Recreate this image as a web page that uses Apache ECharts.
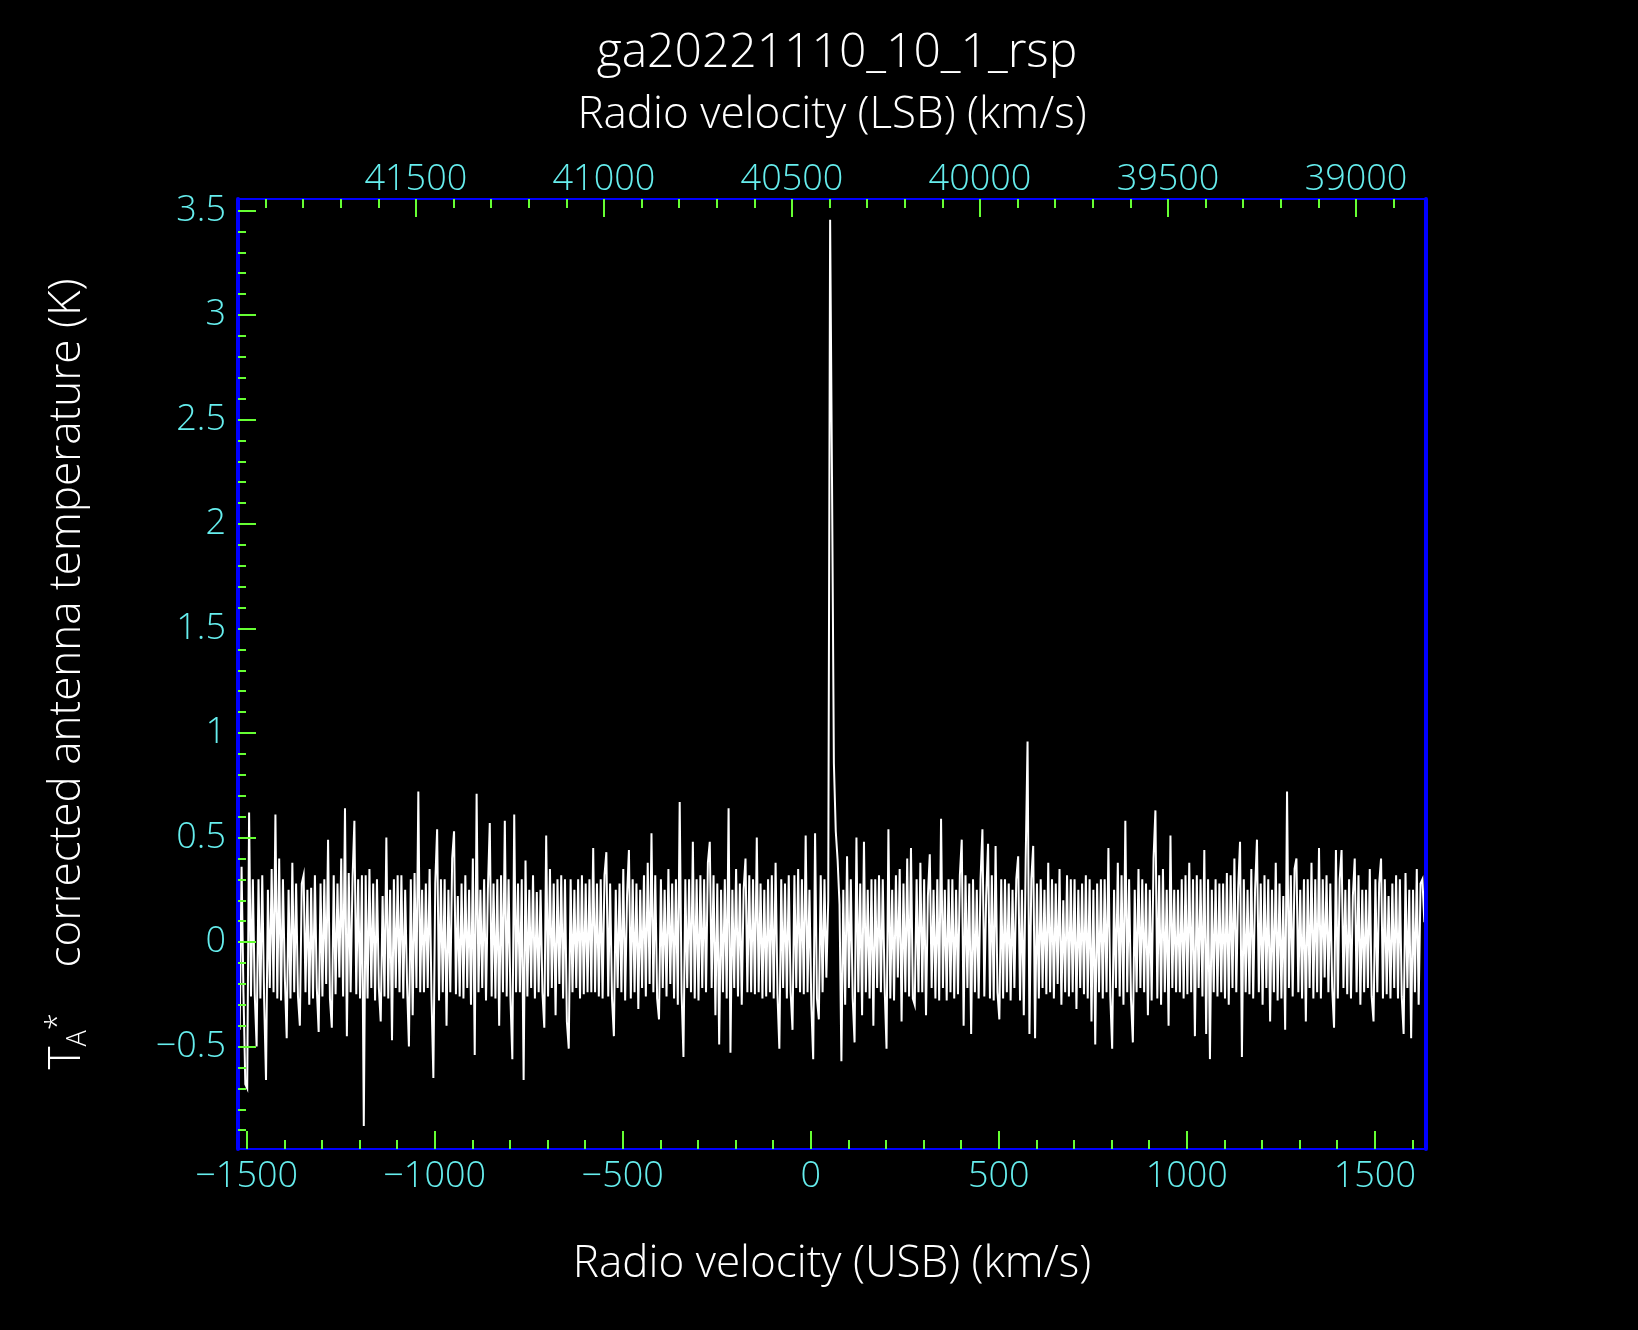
<!DOCTYPE html>
<html><head><meta charset="utf-8">
<script src="https://cdn.jsdelivr.net/npm/echarts@6/dist/echarts.min.js"></script>
<style>html,body{margin:0;padding:0;background:#000;}#c{width:1638px;height:1330px;}</style>
</head><body><div id="c"></div>
<script>
// Channel velocity axis (USB, km/s): first channel centre and channel width
const vStart = -1521;
const vStep = 5;
// Corrected antenna temperature T_A* (K), one value per channel
const tA = [
 0.76,-0.42,0.36,-0.24,-0.68,-0.70,0.62,-0.26,0.30,-0.25,-0.50,0.30,-0.27,0.32,-0.28,-0.66,0.25,-0.22,0.35,-0.24,
 0.61,-0.27,0.40,-0.28,0.30,-0.17,-0.46,0.25,-0.27,0.38,-0.24,0.28,-0.26,-0.40,0.28,0.32,-0.24,0.25,-0.30,0.26,
 -0.27,0.32,-0.22,-0.43,0.28,-0.26,0.30,-0.20,0.49,-0.27,-0.41,0.32,-0.25,0.28,-0.17,0.40,-0.26,0.64,-0.45,0.33,
 -0.24,0.30,0.58,-0.25,0.30,-0.27,0.32,-0.88,0.32,-0.27,0.35,-0.22,0.28,-0.28,0.30,-0.22,-0.38,0.22,-0.26,0.50,
 -0.27,0.25,-0.47,0.30,-0.22,0.32,-0.24,0.32,-0.27,0.25,-0.20,-0.50,0.30,-0.35,0.33,-0.22,0.72,-0.24,0.25,-0.24,
 0.28,-0.22,0.35,-0.26,-0.65,0.28,0.54,-0.28,0.30,-0.24,0.30,-0.40,0.25,-0.24,0.40,0.53,-0.25,0.22,-0.26,0.28,
 -0.27,0.32,-0.22,0.25,-0.30,0.40,-0.54,0.71,-0.24,0.25,-0.22,0.30,-0.28,0.25,0.57,-0.26,0.28,-0.27,0.30,-0.40,
 0.32,-0.24,0.58,-0.26,0.30,-0.27,-0.56,0.61,-0.24,0.28,-0.24,0.30,-0.66,0.39,-0.26,0.25,-0.22,0.32,-0.27,0.24,
 -0.24,0.25,-0.24,-0.41,0.51,-0.26,0.35,-0.22,0.28,-0.35,0.30,-0.20,0.32,-0.27,0.30,-0.38,-0.51,0.30,-0.24,0.25,
 -0.22,0.30,-0.27,0.32,-0.25,0.28,-0.24,0.30,-0.24,0.45,-0.24,0.28,-0.26,0.30,-0.27,0.32,0.43,-0.26,0.28,-0.27,
 -0.45,0.25,-0.22,0.28,-0.24,0.35,-0.28,0.22,0.44,-0.27,0.30,-0.24,0.28,-0.32,0.25,-0.22,0.32,-0.26,0.38,-0.20,
 0.52,-0.24,0.32,-0.27,-0.37,0.30,-0.22,0.25,-0.26,0.35,-0.20,0.28,-0.27,0.30,-0.30,0.67,-0.24,-0.55,0.30,-0.22,
 0.30,-0.24,0.48,-0.27,0.30,-0.28,0.32,-0.22,0.30,-0.24,0.38,0.48,-0.22,0.32,-0.35,0.28,-0.49,0.25,-0.24,0.30,
 -0.27,0.64,-0.53,0.25,-0.22,0.35,-0.26,0.28,-0.30,0.25,0.40,-0.24,0.32,-0.24,0.30,-0.25,0.50,-0.24,0.28,-0.27,
 0.25,-0.26,0.30,-0.24,0.32,-0.27,0.38,-0.25,-0.51,0.30,-0.22,0.28,-0.27,0.32,-0.24,-0.42,0.32,-0.22,0.35,-0.24,
 0.30,-0.25,0.51,-0.24,0.25,-0.30,-0.56,0.52,-0.27,-0.37,0.32,-0.24,0.30,-0.17,0.20,3.456,2.215,0.856,0.53,0.39,
 0.18,-0.57,0.25,-0.30,0.41,-0.22,0.30,-0.27,-0.48,0.50,-0.24,0.28,-0.35,0.48,-0.24,0.25,-0.27,0.30,-0.40,0.30,
 -0.22,0.32,-0.24,0.30,-0.22,-0.51,0.54,-0.27,0.25,-0.28,0.32,-0.17,0.35,-0.38,0.28,-0.24,0.40,-0.26,0.45,-0.27,
 -0.30,0.30,-0.24,0.38,-0.24,0.30,-0.35,0.22,0.42,-0.22,0.25,-0.27,0.30,-0.28,0.59,-0.22,0.25,-0.28,0.30,-0.24,
 0.30,-0.27,0.25,-0.25,0.32,0.49,-0.40,0.32,-0.22,0.28,-0.44,0.30,-0.24,0.25,-0.27,0.30,0.54,-0.26,0.22,0.47,
 -0.27,0.32,-0.28,0.46,-0.24,-0.37,0.30,-0.27,0.30,-0.24,0.28,-0.28,0.25,-0.22,0.30,0.41,-0.28,0.25,-0.35,0.39,
 0.96,-0.44,0.30,0.46,-0.46,0.28,-0.27,0.30,-0.22,0.25,-0.25,0.38,-0.24,0.30,-0.27,0.28,-0.20,0.35,-0.30,0.20,
 -0.24,0.32,-0.26,0.30,-0.24,0.30,-0.32,0.25,-0.22,0.28,-0.25,0.32,-0.27,0.30,-0.38,0.25,-0.49,0.28,-0.24,0.30,
 -0.27,0.30,-0.24,0.45,-0.26,-0.51,0.25,-0.22,0.38,-0.26,0.32,-0.30,0.58,-0.24,0.30,-0.27,-0.48,0.25,-0.24,0.35,
 -0.22,0.30,-0.24,0.28,-0.35,0.25,-0.28,0.40,0.63,-0.27,0.32,-0.30,0.35,-0.24,0.25,-0.40,0.51,-0.22,0.25,-0.24,
 0.25,-0.24,0.30,-0.27,0.32,-0.25,0.38,-0.24,0.30,-0.45,0.32,-0.22,0.30,-0.26,0.44,-0.44,0.30,-0.56,0.25,-0.24,
 0.30,-0.26,0.28,-0.24,0.28,-0.27,0.33,-0.30,0.32,-0.22,0.40,-0.24,0.25,0.48,-0.55,0.30,-0.24,0.25,-0.25,0.35,
 -0.27,0.25,0.49,-0.24,0.28,-0.30,0.32,-0.22,0.30,-0.38,0.25,-0.24,0.38,-0.28,0.28,-0.27,0.22,-0.42,0.72,-0.22,
 0.32,-0.26,0.35,0.40,-0.24,0.25,-0.27,0.30,-0.38,0.30,-0.22,0.38,-0.27,0.30,-0.24,0.45,-0.27,0.30,-0.17,0.32,
 -0.24,0.28,-0.22,-0.41,0.44,-0.27,0.30,0.44,-0.22,0.25,-0.25,0.30,-0.27,0.22,0.40,-0.24,0.32,-0.30,0.25,-0.24,
 0.25,-0.22,0.35,-0.26,-0.38,0.30,-0.24,0.28,0.40,-0.27,0.30,-0.25,0.22,-0.27,0.28,-0.22,0.32,-0.27,0.30,-0.26,
 -0.44,0.33,-0.22,0.25,-0.46,0.25,-0.24,0.35,-0.30,0.28,0.30,0.10
];
// Axis ranges and ticks
const usbRange = [-1523, 1636];
const lsbOffset = 40450; // LSB velocity = lsbOffset - USB velocity
const tRange = [-0.99, 3.555];
const usbMajor = [-1500, -1000, -500, 0, 500, 1000, 1500];
const usbMinor = [-1500,-1400,-1300,-1200,-1100,-1000,-900,-800,-700,-600,-500,-400,-300,-200,-100,0,100,200,300,400,500,600,700,800,900,1000,1100,1200,1300,1400,1500,1600];
const lsbMajor = [39000, 39500, 40000, 40500, 41000, 41500];
const lsbMinor = [38900,39000,39100,39200,39300,39400,39500,39600,39700,39800,39900,40000,40100,40200,40300,40400,40500,40600,40700,40800,40900,41000,41100,41200,41300,41400,41500,41600,41700,41800,41900];
const tMajor = [-0.5, 0, 0.5, 1, 1.5, 2, 2.5, 3, 3.5];
const tMinor = [-0.9,-0.8,-0.7,-0.6,-0.5,-0.4,-0.3,-0.2,-0.1,0,0.1,0.2,0.3,0.4,0.5,0.6,0.7,0.8,0.9,1,1.1,1.2,1.3,1.4,1.5,1.6,1.7,1.8,1.9,2,2.1,2.2,2.3,2.4,2.5,2.6,2.7,2.8,2.9,3,3.1,3.2,3.3,3.4,3.5];
const titleText = 'ga20221110_10_1_rsp';
const xTopName = 'Radio velocity (LSB) (km/s)';
const xBottomName = 'Radio velocity (USB) (km/s)';

const FONT = '"Open Sans"';
const FW = 300;
const CYAN = '#66eeee';
const GREEN = '#66ff33';
const BLUE = '#0000ff';
const fmt = v => v < 0 ? '\u2212' + Math.abs(v) : String(v);

// Histogram outline: each channel spans [centre - step/2, centre + step/2]
const data = [];
tA.forEach((t, i) => {
  const c = vStart + vStep * i;
  data.push([c - vStep / 2, t], [c + vStep / 2, t]);
});

const base = { splitLine: { show: false }, z: 5 };
const hiddenLine = { show: false, onZero: false };
const chart = echarts.init(document.getElementById('c'), null, { renderer: 'canvas' });
chart.setOption({
  backgroundColor: '#000',
  animation: false,
  title: {
    text: titleText, left: 832, top: 24, textAlign: 'center',
    textStyle: { color: '#fff', fontFamily: FONT, fontWeight: FW, fontSize: 48 }
  },
  grid: { left: 238, top: 199, width: 1188, height: 950, containLabel: false },
  xAxis: [
    Object.assign({}, base, {
      type: 'value', position: 'bottom', min: usbRange[0], max: usbRange[1],
      axisLine: { show: true, onZero: false, lineStyle: { color: BLUE, width: 2 } },
      axisTick: { show: true, inside: true, length: 18, customValues: usbMajor, lineStyle: { color: GREEN, width: 2 } },
      axisLabel: { show: true, customValues: usbMajor, formatter: fmt, margin: 10, color: CYAN, fontFamily: FONT, fontWeight: FW, fontSize: 36 },
      name: xBottomName, nameLocation: 'middle', nameGap: 93,
      nameTextStyle: { color: '#fff', fontFamily: FONT, fontWeight: FW, fontSize: 44 }
    }),
    Object.assign({}, base, {
      type: 'value', position: 'bottom', min: usbRange[0], max: usbRange[1],
      axisLine: hiddenLine,
      axisTick: { show: true, inside: true, length: 9, customValues: usbMinor, lineStyle: { color: GREEN, width: 2 } },
      axisLabel: { show: false }
    }),
    Object.assign({}, base, {
      type: 'value', position: 'top', inverse: true,
      min: lsbOffset - usbRange[1], max: lsbOffset - usbRange[0],
      axisLine: { show: true, onZero: false, lineStyle: { color: BLUE, width: 2 } },
      axisTick: { show: true, inside: true, length: 18, customValues: lsbMajor, lineStyle: { color: GREEN, width: 2 } },
      axisLabel: { show: true, customValues: lsbMajor, formatter: v => String(v), margin: 1, color: CYAN, fontFamily: FONT, fontWeight: FW, fontSize: 36 },
      name: xTopName, nameLocation: 'middle', nameGap: 62,
      nameTextStyle: { color: '#fff', fontFamily: FONT, fontWeight: FW, fontSize: 44 }
    }),
    Object.assign({}, base, {
      type: 'value', position: 'top', inverse: true,
      min: lsbOffset - usbRange[1], max: lsbOffset - usbRange[0],
      axisLine: hiddenLine,
      axisTick: { show: true, inside: true, length: 9, customValues: lsbMinor, lineStyle: { color: GREEN, width: 2 } },
      axisLabel: { show: false }
    })
  ],
  yAxis: [
    Object.assign({}, base, {
      type: 'value', position: 'left', min: tRange[0], max: tRange[1],
      axisLine: { show: true, onZero: false, lineStyle: { color: BLUE, width: 4 } },
      axisTick: { show: true, inside: true, length: 18, customValues: tMajor, lineStyle: { color: GREEN, width: 2 } },
      axisLabel: { show: true, customValues: tMajor, formatter: fmt, margin: 12, color: CYAN, fontFamily: FONT, fontWeight: FW, fontSize: 36 },
      name: '{t|T}{a|A}{s|*}    corrected antenna temperature (K)',
      nameLocation: 'middle', nameRotate: 90, nameGap: 146,
      nameTextStyle: {
        color: '#fff', fontFamily: FONT, fontWeight: FW, fontSize: 44,
        rich: {
          t: { color: '#fff', fontFamily: FONT, fontWeight: FW, fontSize: 44 },
          a: { color: '#fff', fontFamily: FONT, fontWeight: FW, fontSize: 27, verticalAlign: 'bottom', padding: [18, 0, 0, 0] },
          s: { color: '#fff', fontFamily: FONT, fontWeight: FW, fontSize: 31, verticalAlign: 'top', padding: [0, 0, 18, 0] }
        }
      }
    }),
    Object.assign({}, base, {
      type: 'value', position: 'left', min: tRange[0], max: tRange[1],
      axisLine: hiddenLine,
      axisTick: { show: true, inside: true, length: 8, customValues: tMinor, lineStyle: { color: GREEN, width: 2 } },
      axisLabel: { show: false }
    }),
    Object.assign({}, base, {
      type: 'value', position: 'right', min: tRange[0], max: tRange[1],
      axisLine: { show: true, onZero: false, lineStyle: { color: BLUE, width: 4 } },
      axisTick: { show: false }, axisLabel: { show: false }
    })
  ],
  series: [{
    type: 'line', xAxisIndex: 0, yAxisIndex: 0, data: data,
    showSymbol: false, symbol: 'none', clip: true,
    lineStyle: { color: '#ffffff', width: 2, join: 'miter', cap: 'butt' },
    z: 2
  }]
});
</script>
</body></html>
